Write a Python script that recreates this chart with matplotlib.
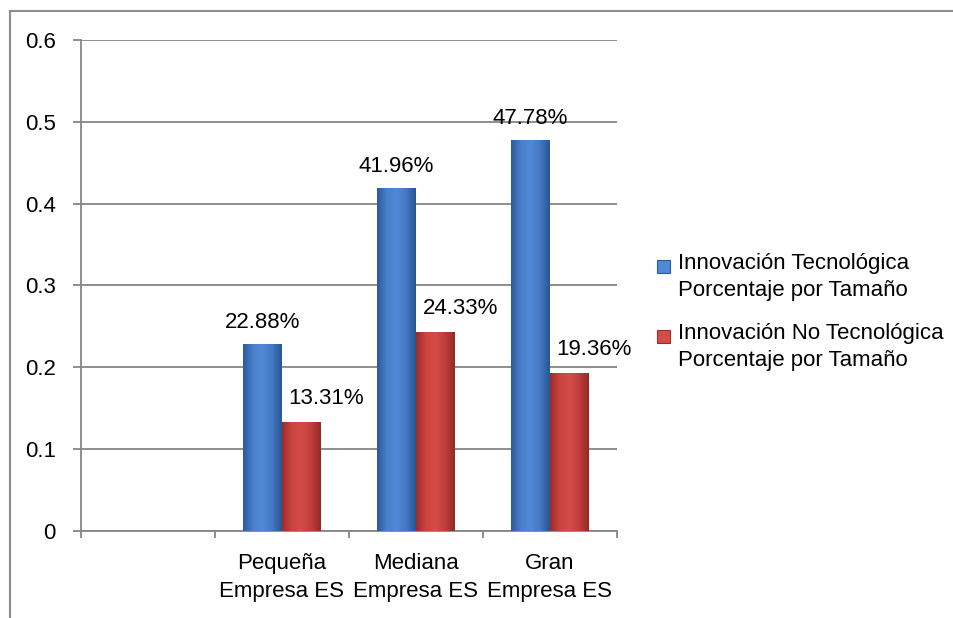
import numpy as np
import matplotlib.pyplot as plt
from matplotlib.patches import Rectangle
from matplotlib.lines import Line2D
from matplotlib.colors import LinearSegmentedColormap

plt.rcParams['font.family'] = ['Liberation Sans', 'DejaVu Sans']

# -----------------------------
# Data
# -----------------------------
categories = ["", "Pequeña\nEmpresa ES", "Mediana\nEmpresa ES", "Gran\nEmpresa ES"]
tecnologica = [np.nan, 0.2288, 0.4196, 0.4778]
no_tecnologica = [np.nan, 0.1331, 0.2433, 0.1936]
series_names = ["Innovación Tecnológica\nPorcentaje por Tamaño",
                "Innovación No Tecnológica\nPorcentaje por Tamaño"]
y_ticks = [0, 0.1, 0.2, 0.3, 0.4, 0.5, 0.6]

blue_cmap = LinearSegmentedColormap.from_list(
    "b", ["#2c5a9c", "#4a80cc", "#5089d6", "#4479c4", "#2a5593"])
red_cmap = LinearSegmentedColormap.from_list(
    "r", ["#9c2c2a", "#cc4440", "#d44c48", "#c23e3b", "#932a28"])

FS = 16
W, H = 954, 618
fig = plt.figure(figsize=(W / 100, H / 100), dpi=100)
ax = fig.add_axes([81 / W, (H - 531) / H, 536 / W, 491 / H])

x = np.arange(len(categories))
bw = 0.29
grad = np.linspace(0, 1, 64).reshape(1, -1)


def shaded_bars(xpos, vals, cmap):
    bars = ax.bar(xpos, vals, bw, color=cmap(0.5), zorder=3, linewidth=0)
    for b in bars:
        h = b.get_height()
        if np.isnan(h):
            continue
        x0 = b.get_x()
        im = ax.imshow(grad, cmap=cmap, aspect="auto", zorder=3.5,
                       extent=[x0, x0 + bw, 0, h], interpolation="bicubic")
        im.set_clip_path(b)
    return bars


b1 = shaded_bars(x - bw / 2, tecnologica, blue_cmap)
b2 = shaded_bars(x + bw / 2, no_tecnologica, red_cmap)

# value labels
for xi, v in zip(x, tecnologica):
    if not np.isnan(v):
        ax.annotate(f"{v * 100:.2f}%", (xi - bw / 2, v), xytext=(0, 11.5),
                    textcoords="offset points", ha="center", va="baseline",
                    fontsize=FS, zorder=5)
for xi, v in zip(x, no_tecnologica):
    if not np.isnan(v):
        ax.annotate(f"{v * 100:.2f}%", (xi + bw / 2, v), xytext=(18, 13),
                    textcoords="offset points", ha="center", va="baseline",
                    fontsize=FS, zorder=5, annotation_clip=False)

# axes styling
grey = "#868686"
ax.set_xlim(-0.5, len(categories) - 0.5)
ax.set_ylim(0, 0.6)
ax.set_yticks(y_ticks)
ax.set_yticklabels(["0" if t == 0 else f"{t:.1f}" for t in y_ticks], fontsize=FS)
ax.set_xticks(x)
ax.set_xticklabels(categories, fontsize=FS, linespacing=1.4)
ax.set_xticks(np.arange(len(categories) + 1) - 0.5, minor=True)
ax.tick_params(axis="x", which="major", length=0, pad=16)
ax.tick_params(axis="x", which="minor", length=5, color=grey, width=1.3)
ax.tick_params(axis="y", length=6, color=grey, width=1.3, pad=12)
ax.grid(axis="y", color=grey, linewidth=1.3, zorder=0)
ax.set_axisbelow(True)
for s in ["top", "right"]:
    ax.spines[s].set_visible(False)
for s in ["left", "bottom"]:
    ax.spines[s].set_color(grey)
    ax.spines[s].set_linewidth(1.3)

# legend
for i, (name, cmap) in enumerate(zip(series_names, [blue_cmap, red_cmap])):
    yc = 267 + i * 70
    fig.patches.append(Rectangle((657 / W, 1 - (yc + 6) / H), 13 / W, 13 / H,
                                 transform=fig.transFigure, facecolor=cmap(0.5),
                                 edgecolor=cmap(0.0), linewidth=0.8))
    fig.text(678 / W, 1 - (yc - 14) / H, name, fontsize=FS, va="top",
             linespacing=1.35)

# outer frame
fig.add_artist(Line2D([10 / W, 10 / W], [0, 1 - 11 / H], color="#8c8c8c",
                      linewidth=1.5, transform=fig.transFigure))
fig.add_artist(Line2D([10 / W, 1], [1 - 11 / H, 1 - 11 / H], color="#8c8c8c",
                      linewidth=1.5, transform=fig.transFigure))

fig.savefig("out.png", dpi=100)
